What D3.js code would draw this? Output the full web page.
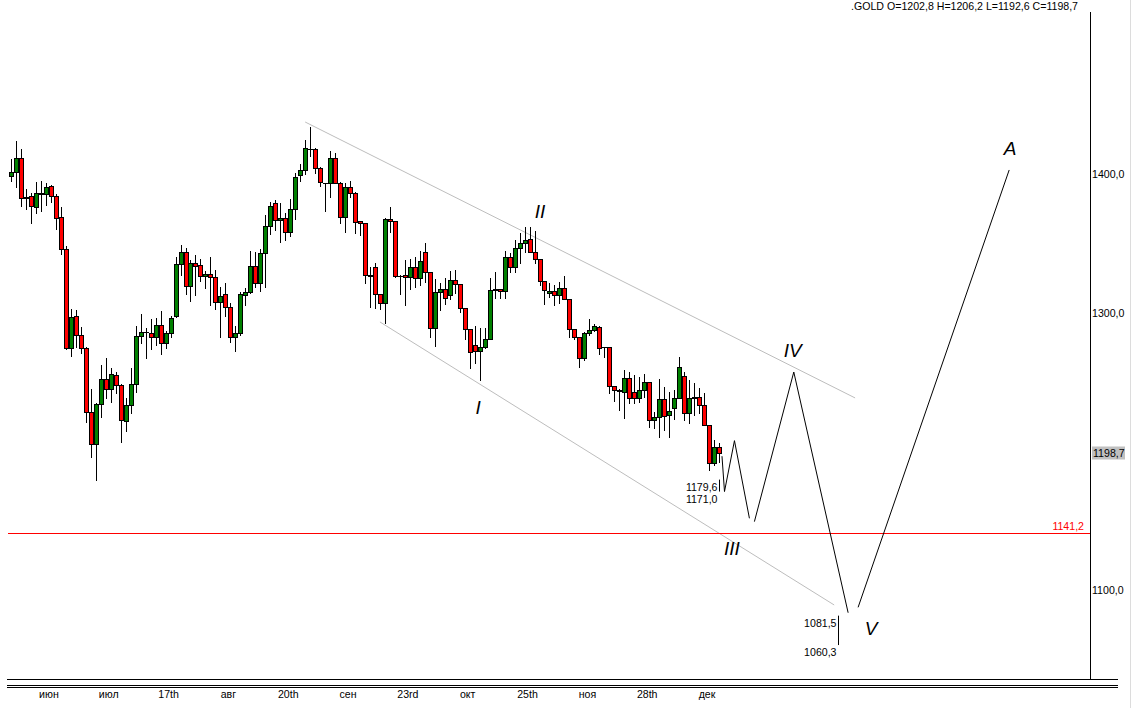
<!DOCTYPE html>
<html><head><meta charset="utf-8">
<script src="https://cdn.jsdelivr.net/npm/d3@7"></script>
<style>
html,body{margin:0;padding:0;background:#fff;}
svg{display:block;}
text{font-family:"Liberation Sans",Arial,sans-serif;}
</style></head><body>
<svg id="chart" width="1141" height="708"></svg>
<script>
const symbol = ".GOLD";
const opens = [1398.4,1401.2,1411.3,1382.5,1383.9,1376.4,1385.4,1385.4,1391.1,1383.9,1368.8,1345.7,1274.3,1297.4,1283.7,1274.3,1228.1,1205.1,1233.9,1252.0,1244.7,1254.8,1247.6,1221.6,1233.2,1248.3,1282.9,1285.8,1285.1,1282.2,1290.9,1277.9,1285.1,1297.4,1334.9,1343.5,1319.0,1335.6,1334.2,1326.2,1327.7,1325.5,1307.5,1313.3,1303.9,1282.2,1285.1,1312.5,1314.7,1333.7,1321.2,1342.8,1362.5,1378.9,1366.8,1368.1,1358.0,1374.6,1399.1,1402.9,1418.0,1417.8,1404.1,1393.7,1393.3,1411.3,1393.3,1368.8,1390.4,1386.1,1366.3,1364.5,1327.0,1332.7,1313.3,1306.8,1367.3,1365.9,1326.2,1327.0,1325.5,1332.7,1324.8,1343.5,1329.1,1288.7,1314.7,1316.9,1312.5,1323.3,1320.5,1303.2,1288.0,1276.5,1272.1,1275.0,1280.8,1316.1,1316.9,1315.4,1339.9,1332.7,1346.4,1350.2,1352.9,1343.5,1338.5,1322.6,1314.0,1315.4,1312.5,1317.6,1309.6,1288.0,1282.2,1267.1,1285.1,1287.3,1289.4,1275.0,1275.0,1246.9,1244.0,1243.0,1252.7,1243.0,1238.2,1244.2,1250.2,1222.6,1224.5,1237.5,1226.0,1231.0,1238.2,1254.3,1227.4,1238.2,1239.4,1233.4,1219.0,1191.4,1202.8];
const highs = [1410.8,1423.8,1418.0,1389.0,1386.3,1394.0,1395.0,1393.3,1391.9,1385.8,1376.4,1348.1,1302.6,1301.7,1289.7,1275.0,1244.7,1235.1,1262.3,1267.1,1259.9,1257.0,1248.5,1238.2,1259.9,1290.2,1299.0,1288.7,1295.2,1296.4,1301.2,1286.8,1297.8,1340.4,1348.6,1346.9,1338.0,1341.4,1338.5,1330.3,1340.4,1330.6,1318.3,1321.2,1306.8,1290.2,1314.7,1317.6,1344.5,1344.0,1345.7,1370.4,1379.6,1381.3,1378.9,1371.7,1382.0,1400.5,1407.0,1424.5,1434.1,1418.5,1405.3,1393.7,1416.6,1415.2,1394.5,1393.3,1395.0,1387.3,1366.3,1364.5,1333.2,1335.6,1313.3,1368.1,1376.0,1365.9,1326.9,1337.8,1338.5,1340.0,1344.3,1350.0,1329.1,1324.1,1321.2,1324.8,1329.8,1330.6,1320.5,1303.2,1288.0,1290.2,1289.2,1288.7,1324.8,1329.1,1317.2,1344.3,1342.8,1352.4,1357.2,1362.0,1362.0,1358.7,1338.5,1322.6,1321.2,1319.7,1321.9,1326.2,1309.6,1288.0,1282.2,1285.8,1295.2,1291.6,1290.2,1275.3,1275.0,1246.9,1244.7,1258.7,1257.4,1255.1,1253.8,1255.6,1250.2,1228.6,1252.0,1246.6,1243.0,1244.2,1268.3,1257.4,1251.5,1249.1,1245.5,1241.8,1219.0,1208.2,1206.2];
const lows = [1395.2,1390.8,1377.0,1375.0,1364.9,1372.1,1373.5,1377.7,1380.0,1360.6,1342.5,1273.5,1269.0,1275.5,1271.1,1221.4,1196.1,1179.3,1224.5,1238.2,1235.8,1241.9,1206.9,1214.9,1227.4,1243.0,1277.9,1267.5,1274.0,1276.7,1270.4,1274.7,1282.2,1296.7,1327.0,1313.3,1308.6,1312.5,1323.1,1317.6,1305.3,1302.4,1282.7,1297.4,1279.1,1272.6,1283.7,1305.3,1314.0,1318.7,1315.8,1318.7,1356.9,1359.6,1351.2,1352.4,1355.5,1367.5,1395.2,1400.0,1413.2,1400.5,1391.6,1373.5,1383.6,1393.3,1364.5,1358.4,1383.6,1357.2,1356.0,1321.2,1304.3,1303.2,1302.9,1292.3,1358.0,1325.5,1313.3,1305.3,1316.9,1318.7,1319.7,1321.9,1282.2,1276.2,1301.7,1306.0,1309.6,1314.0,1300.3,1280.8,1259.9,1263.5,1251.2,1274.3,1280.8,1310.4,1310.4,1310.4,1329.1,1329.1,1335.6,1343.5,1343.5,1335.6,1319.7,1306.0,1311.1,1305.3,1306.8,1309.6,1282.7,1280.8,1261.0,1265.6,1283.7,1286.6,1270.0,1267.8,1242.0,1236.1,1230.0,1223.8,1234.6,1234.6,1235.8,1239.4,1217.3,1216.6,1210.5,1215.4,1210.5,1223.1,1238.2,1222.6,1220.2,1226.2,1227.4,1219.0,1186.5,1190.1,1192.6];
const closes = [1401.2,1411.3,1382.5,1383.6,1377.2,1386.1,1386.1,1390.4,1383.9,1368.5,1345.7,1274.3,1296.7,1283.7,1274.3,1228.1,1205.1,1233.9,1252.0,1244.7,1255.6,1247.6,1222.4,1233.2,1248.3,1282.9,1285.8,1285.8,1282.2,1290.9,1277.9,1285.1,1295.9,1334.9,1343.5,1319.0,1335.6,1333.4,1326.2,1327.7,1325.5,1307.5,1311.8,1303.9,1282.2,1285.1,1313.3,1314.7,1333.4,1321.2,1342.8,1362.5,1376.9,1366.8,1368.1,1358.0,1374.6,1397.6,1402.9,1418.5,1418.0,1404.1,1394.5,1393.3,1411.3,1393.3,1368.8,1390.9,1386.1,1365.6,1364.5,1327.0,1326.2,1313.3,1306.8,1367.3,1365.9,1326.2,1326.2,1325.5,1332.7,1324.8,1337.1,1329.1,1288.7,1314.7,1316.9,1310.8,1323.3,1320.5,1303.2,1288.0,1271.4,1272.1,1275.0,1280.8,1316.1,1316.9,1315.4,1339.9,1332.7,1346.4,1350.0,1352.2,1343.5,1338.5,1322.6,1316.1,1315.4,1312.5,1317.6,1309.6,1288.0,1282.2,1267.1,1285.1,1287.3,1290.2,1274.3,1275.0,1246.9,1244.0,1243.3,1252.7,1238.2,1238.2,1244.2,1250.2,1222.6,1224.5,1237.5,1225.5,1229.1,1238.2,1261.0,1227.4,1238.2,1239.4,1233.4,1219.0,1191.4,1202.9,1198.7];

const xTickIndex = [7.5,19.5,31.5,43.5,55.5,67.5,79.5,91.5,103.5,115.5,127.5,139.5];
const xTickLabels = ["июн","июл","17th","авг","20th","сен","23rd","окт","25th","ноя","28th","дек"];
const yTickValues = [1100,1300,1400];
const levelPrice = 1141.2;

// projected wave path (index, price)
const wavePath1 = [[142.6,1196.5],[143.1,1171.0],[145.1,1207.7],[148.1,1151.7]];
const wavePath2 = [[149.1,1149.3],[157.0,1257.2],[167.9,1083.6]];
const wavePath3 = [[169.9,1087.5],[200.2,1402.9]];
const channelUpper = [[59.0,1437.5],[169.3,1238.5]];
const channelLower = [[74.0,1293.3],[165.1,1089.2]];
const waveLabels = ["I","II","III","IV","V","A"];
const waveLabelIdx = [93.7,106.1,144.6,156.8,172.5,200.4];
const waveLabelPrice = [1226.9,1368.3,1124.9,1268.0,1067.5,1413.7];
const rangeIdx = [142.1,165.9];
const rangeHi = [1179.6,1081.5];
const rangeLo = [1171.0,1060.3];

const fmt = v => v.toFixed(1).replace('.', ',');
const svg = d3.select('#chart');
const x = d3.scaleLinear().domain([0,142]).range([11,719]);
const y = d3.scaleLinear().domain([1100,1400]).range([590,174]);
const N = closes.length;
const FONT = '"Liberation Sans",Arial,sans-serif';

// frame lines
svg.append('line').attr('x1',1130.5).attr('x2',1130.5).attr('y1',0).attr('y2',708).attr('stroke','#dcdcdc').attr('shape-rendering','crispEdges');
svg.append('line').attr('x1',1090.5).attr('x2',1090.5).attr('y1',12).attr('y2',679).attr('stroke','#000').attr('shape-rendering','crispEdges');
[679.5,685.5,687.5].forEach(yy=>{
  svg.append('line').attr('x1',7).attr('x2',1118).attr('y1',yy).attr('y2',yy).attr('stroke','#000').attr('shape-rendering','crispEdges');
});

// channel lines
const linePath = d3.line().x(d=>x(d[0])).y(d=>y(d[1]));
[channelUpper, channelLower].forEach(c=>{
  svg.append('path').attr('d', linePath(c)).attr('fill','none').attr('stroke','#bdbdbd').attr('stroke-width',1);
});

// level line
const ly = Math.round(y(levelPrice))+0.5;
svg.append('rect').attr('x',8).attr('y',Math.round(y(levelPrice))).attr('width',1082).attr('height',1).attr('fill','#ff0000');
svg.append('text').attr('x',1084).attr('y',y(levelPrice)-3).attr('text-anchor','end')
  .attr('font-size','10.6px').attr('fill','#ff0000').text(fmt(levelPrice));

// candles
const g = svg.append('g').attr('shape-rendering','crispEdges');
for (let i=0;i<N;i++){
  const c = Math.round(x(i));
  const yh = Math.round(y(highs[i])), yl = Math.round(y(lows[i]));
  g.append('line').attr('x1',c+0.5).attr('x2',c+0.5).attr('y1',yh).attr('y2',yl+1).attr('stroke','#000');
  const yo = Math.round(y(opens[i])), yc = Math.round(y(closes[i]));
  if (yo === yc){
    g.append('line').attr('x1',c-2).attr('x2',c+3).attr('y1',yo+0.5).attr('y2',yo+0.5).attr('stroke','#000');
  } else {
    const top = Math.min(yo,yc), bot = Math.max(yo,yc);
    g.append('rect').attr('x',c-2+0.5).attr('y',top+0.5).attr('width',4).attr('height',bot-top)
      .attr('fill', closes[i]>opens[i] ? '#008000' : '#ff0000').attr('stroke','#000').attr('stroke-width',1);
  }
}

// wave paths
[wavePath1, wavePath2, wavePath3].forEach(p=>{
  svg.append('path').attr('d', linePath(p)).attr('fill','none').attr('stroke','#000').attr('stroke-width',1);
});

// range marks
rangeIdx.forEach((ri,k)=>{
  const xx = Math.round(x(ri))+0.5;
  svg.append('line').attr('x1',xx).attr('x2',xx).attr('y1',y(rangeHi[k])).attr('y2',y(rangeLo[k])).attr('stroke','#000');
  svg.append('text').attr('x',xx-2).attr('y',y(rangeHi[k])+11).attr('text-anchor','end').attr('font-size','10.6px').text(fmt(rangeHi[k]));
  svg.append('text').attr('x',xx-2).attr('y',y(rangeLo[k])+11).attr('text-anchor','end').attr('font-size','10.6px').text(fmt(rangeLo[k]));
});

// wave labels
waveLabels.forEach((t,k)=>{
  svg.append('text').attr('x',x(waveLabelIdx[k])).attr('y',y(waveLabelPrice[k])).attr('text-anchor','middle')
    .attr('font-size','19px').attr('font-style','italic').attr('fill','#000').text(t);
});

// y axis
const yAxis = d3.axisRight(y).tickValues(yTickValues).tickSize(0).tickPadding(2).tickFormat(fmt);
const ya = svg.append('g').attr('transform','translate(1090,0)').call(yAxis);
ya.select('.domain').remove();
ya.selectAll('text').attr('font-size','10.6px').attr('font-family',FONT).attr('fill','#000');

// last price box
const lp = closes[N-1];
const lpy = y(lp);
svg.append('rect').attr('x',1092).attr('y',Math.round(lpy)-6.5).attr('width',33).attr('height',13).attr('fill','#c0c0c0');
svg.append('text').attr('x',1093).attr('y',lpy+4).attr('font-size','10.6px').attr('fill','#000').text(fmt(lp));

// x axis
const xAxis = d3.axisBottom(x).tickValues(xTickIndex).tickSize(0).tickPadding(3).tickFormat((d,i)=>xTickLabels[i]);
const xa = svg.append('g').attr('transform','translate(0,687)').call(xAxis);
xa.select('.domain').remove();
xa.selectAll('text').attr('font-size','10.6px').attr('font-family',FONT).attr('fill','#000');

// header
svg.append('text').attr('x',1078).attr('y',10).attr('text-anchor','end').attr('font-size','10.6px').attr('fill','#000')
  .text(`${symbol} O=${fmt(opens[N-1])} H=${fmt(highs[N-1])} L=${fmt(lows[N-1])} C=${fmt(closes[N-1])}`);
</script>
</body></html>
